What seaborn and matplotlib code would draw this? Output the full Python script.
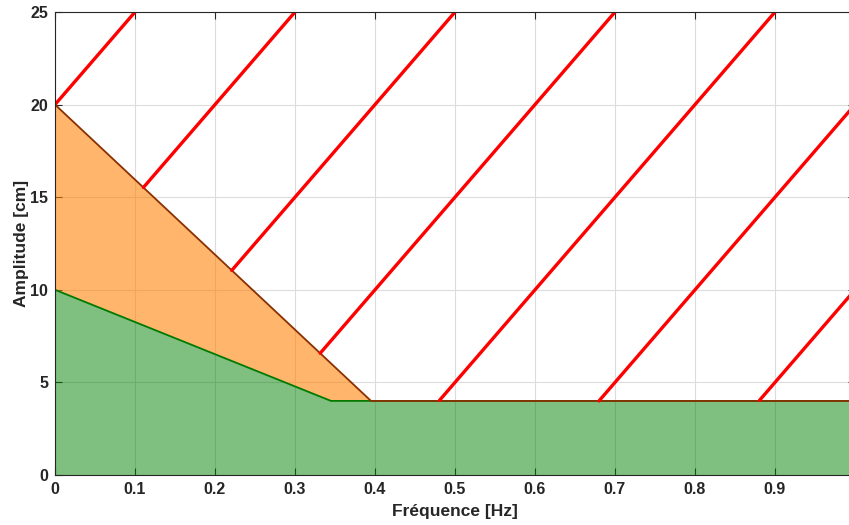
import numpy as np
import pandas as pd
import matplotlib
matplotlib.use("Agg")
import matplotlib.pyplot as plt
import seaborn as sns

# limit curves (frequency in Hz, amplitude in cm)
upper_freq = [0.0, 0.395, 1.0]
upper_amp = [20.0, 4.0, 4.0]
lower_freq = [0.0, 0.345, 1.0]
lower_amp = [10.0, 4.0, 4.0]

# hatching: lines amp = slope * (f - f0), drawn above the upper curve
hatch_slope = 50.0
hatch_f0 = [-0.4, -0.2, 0.0, 0.2, 0.4, 0.6, 0.8]

x_ticks = [0, 0.1, 0.2, 0.3, 0.4, 0.5, 0.6, 0.7, 0.8, 0.9, 1.0]
y_ticks = [0, 5, 10, 15, 20, 25]

sns.set_theme(style="white")
plt.rcParams['font.family'] = ['Liberation Sans', 'DejaVu Sans']

fig = plt.figure(figsize=(8.49, 5.25), dpi=100)
ax = fig.add_axes([55 / 849, 50 / 525, 800 / 849, 463 / 525])

ax.set_axisbelow(True)
ax.grid(True, color="#dcdcdc", linewidth=0.8)

f = np.linspace(0, 1, 2001)
up = np.interp(f, upper_freq, upper_amp)
lo = np.interp(f, lower_freq, lower_amp)

ax.fill_between(f, lo, up, color=(1.0, 0.5, 0.0), alpha=0.58, linewidth=0)
ax.fill_between(f, 0, lo, color=(0.0, 0.5, 0.0), alpha=0.5, linewidth=0)

curves = pd.DataFrame({"f": f, "lower": lo, "upper": up})
sns.lineplot(data=curves, x="f", y="lower", color="#007a00", linewidth=1.3, ax=ax)
sns.lineplot(data=curves, x="f", y="upper", color="#8a3000", linewidth=1.3, ax=ax)

for f0 in hatch_f0:
    h = hatch_slope * (f - f0)
    mask = h >= up
    if mask.any():
        sns.lineplot(x=f[mask], y=h[mask], color="red", linewidth=2.4, ax=ax)

ax.set_xlim(0, 1)
ax.set_ylim(0, 25)
ax.set_xticks(x_ticks)
ax.set_xticklabels(["0", "0.1", "0.2", "0.3", "0.4", "0.5", "0.6", "0.7", "0.8", "0.9", "1"])
ax.set_yticks(y_ticks)
ax.tick_params(direction="in", length=5, width=0.8, colors="#262626",
               top=True, right=True, bottom=True, left=True, labelsize=11.5, pad=5)
for lab in ax.get_xticklabels() + ax.get_yticklabels():
    lab.set_fontweight("bold")
for s in ax.spines.values():
    s.set_color("#262626")
    s.set_linewidth(0.8)

ax.set_xlabel("Fréquence [Hz]", fontsize=12.5, fontweight="bold", labelpad=5)
ax.set_ylabel("Amplitude [cm]", fontsize=12.5, fontweight="bold", labelpad=1)

fig.savefig("out.png", dpi=100)
